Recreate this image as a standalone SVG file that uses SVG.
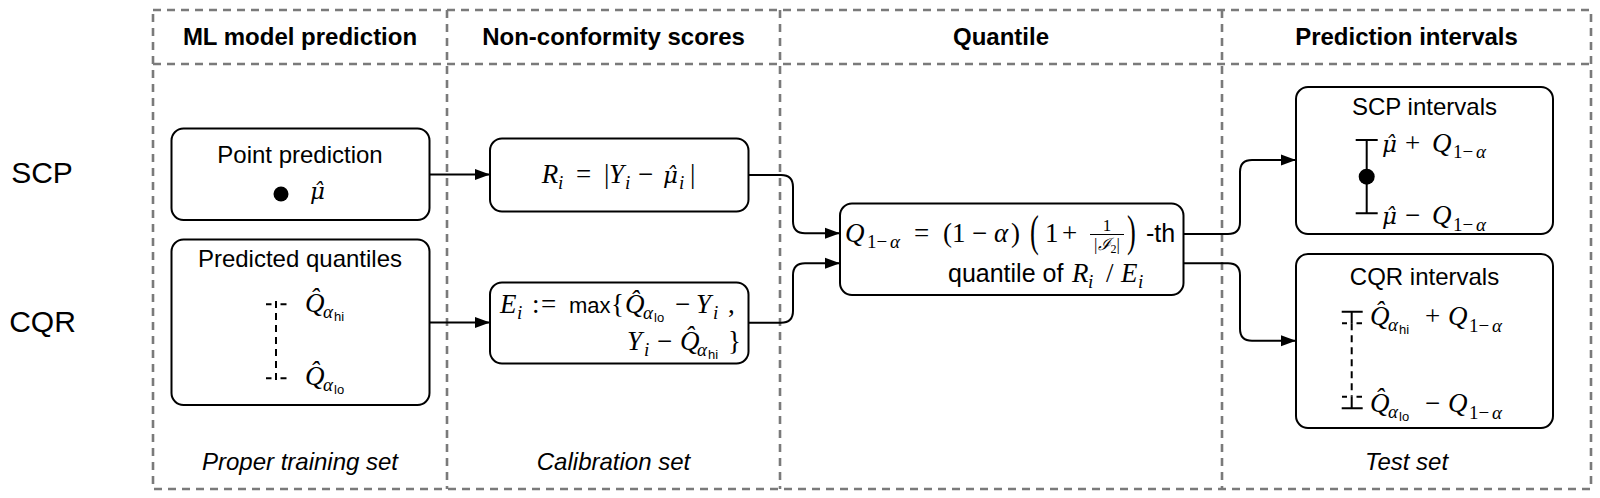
<svg xmlns="http://www.w3.org/2000/svg" width="1600" height="498" viewBox="0 0 1600 498">
<style>
.frame{fill:none;stroke:#7a7a7a;stroke-width:2.6;stroke-dasharray:8 6}
.box{fill:#fff;stroke:#000;stroke-width:2}
.con{fill:none;stroke:#000;stroke-width:2;marker-end:url(#ah)}
.ln{fill:none;stroke:#000;stroke-width:2}
.dl{fill:none;stroke:#000;stroke-width:2;stroke-dasharray:7 5}
.hdr{font-family:"Liberation Sans",Arial,sans-serif;font-weight:bold;font-size:24px;text-anchor:middle;fill:#000}
.row{font-family:"Liberation Sans",Arial,sans-serif;font-size:30px;text-anchor:middle;fill:#000}
.lbl{font-family:"Liberation Sans",Arial,sans-serif;font-size:24px;text-anchor:middle;fill:#000}
.ftr{font-family:"Liberation Sans",Arial,sans-serif;font-style:italic;font-size:24px;text-anchor:middle;fill:#000}
.sf{font-family:"Liberation Sans",Arial,sans-serif;font-size:25px;fill:#000}
.m{font-family:"Liberation Serif","DejaVu Serif",serif;font-style:italic;font-size:27px;fill:#000}
.mu{font-family:"DejaVu Serif",serif;font-style:italic;font-size:23px}
.u{font-style:normal}
.s{font-size:19px}
.ss{font-family:"Liberation Sans",Arial,sans-serif;font-style:normal;font-size:13px}
.big{font-family:"Liberation Serif","DejaVu Serif",serif;font-size:44px;fill:#000}
.fr{font-family:"Liberation Serif","DejaVu Serif",serif;font-size:17px;text-anchor:middle;fill:#000}
</style>
<defs>
<marker id="ah" markerWidth="16" markerHeight="12" refX="15" refY="6" orient="auto" markerUnits="userSpaceOnUse">
<path d="M0,0.5 L15,6 L0,11.5 z" fill="#000"/>
</marker>
</defs>

<g id="frame">
<rect class="frame" x="153" y="10" width="1438" height="479"/>
<line class="frame" x1="153" y1="64" x2="1591" y2="64"/>
<line class="frame" x1="447" y1="10" x2="447" y2="489"/>
<line class="frame" x1="780" y1="10" x2="780" y2="489"/>
<line class="frame" x1="1222" y1="10" x2="1222" y2="489"/>
</g>

<g id="headers">
<text class="hdr" x="300" y="45">ML model prediction</text>
<text class="hdr" x="613.5" y="45">Non-conformity scores</text>
<text class="hdr" x="1001" y="45">Quantile</text>
<text class="hdr" x="1406.5" y="45">Prediction intervals</text>
</g>

<g id="rowlabels">
<text class="row" x="42" y="183">SCP</text>
<text class="row" x="42.5" y="331.5">CQR</text>
</g>

<g id="footers">
<text class="ftr" x="300" y="470">Proper training set</text>
<text class="ftr" x="613.5" y="470">Calibration set</text>
<text class="ftr" x="1406.5" y="470">Test set</text>
</g>

<g id="connectors">
<path class="con" d="M429.5,174.5 H490"/>
<path class="con" d="M429.5,322.5 H490"/>
<path class="con" d="M748.5,175 H781 Q793,175 793,187 V221.3 Q793,233.3 805,233.3 H840"/>
<path class="con" d="M748.5,322.7 H781 Q793,322.7 793,310.7 V275.3 Q793,263.3 805,263.3 H840"/>
<path class="con" d="M1183.5,234 H1228 Q1240,234 1240,222 V172 Q1240,160 1252,160 H1296"/>
<path class="con" d="M1183.5,263.3 H1228 Q1240,263.3 1240,275.3 V328.7 Q1240,340.7 1252,340.7 H1296"/>
</g>

<g id="point-prediction">
<rect class="box" x="171.5" y="128.5" width="258" height="91.5" rx="12"/>
<text class="lbl" x="300" y="163">Point prediction</text>
<circle cx="281" cy="194" r="7.5" fill="#000"/>
<text class="m mu" x="310" y="199">μ̂</text>
</g>

<g id="predicted-quantiles">
<rect class="box" x="171.5" y="239.5" width="258" height="165.5" rx="12"/>
<text class="lbl" x="300" y="267">Predicted quantiles</text>
<path class="ln" d="M266,304.3 H271.5 M280.5,304.3 H286.5 M266,378.3 H271.5 M280.5,378.3 H286.5"/>
<line class="dl" x1="276" y1="301" x2="276" y2="381"/>
<text class="m"><tspan x="305" y="312">Q̂</tspan><tspan class="s" x="323" y="318">α</tspan><tspan class="ss" x="334" y="321">hi</tspan></text>
<text class="m"><tspan x="305" y="385">Q̂</tspan><tspan class="s" x="323" y="391">α</tspan><tspan class="ss" x="334" y="394">lo</tspan></text>
</g>

<g id="residual-score">
<rect class="box" x="490" y="138.5" width="258.5" height="73" rx="12"/>
<text class="m"><tspan x="541.7" y="183.3">R</tspan><tspan class="s" x="558" y="189">i</tspan><tspan class="u" x="576" y="183.3">=</tspan><tspan class="u" x="604" y="183.3">|</tspan><tspan x="609" y="183.3">Y</tspan><tspan class="s" x="625" y="189">i</tspan><tspan class="u" x="638" y="183.3">−</tspan><tspan class="mu" x="663" y="183.3">μ̂</tspan><tspan class="s" x="679" y="189">i</tspan><tspan class="u" x="690" y="183.3">|</tspan></text>
</g>

<g id="cqr-score">
<rect class="box" x="490" y="282.5" width="258.5" height="81" rx="12"/>
<text class="m"><tspan x="500" y="313.3">E</tspan><tspan class="s" x="517" y="319">i</tspan><tspan class="u" x="532" y="313.3">:</tspan><tspan class="u" x="541" y="313.3">=</tspan></text>
<text class="sf" x="569" y="313.3" style="font-size:22px">max</text>
<text class="m"><tspan class="u" x="611" y="313.3">{</tspan><tspan x="625" y="313.3">Q̂</tspan><tspan class="s" x="643" y="319">α</tspan><tspan class="ss" x="654" y="322">lo</tspan><tspan class="u" x="675" y="313.3">−</tspan><tspan x="696" y="313.3">Y</tspan><tspan class="s" x="713" y="319">i</tspan><tspan class="u" x="728" y="313.3">,</tspan></text>
<text class="m"><tspan x="627" y="350">Y</tspan><tspan class="s" x="644" y="356">i</tspan><tspan class="u" x="657" y="350">−</tspan><tspan x="680" y="350">Q̂</tspan><tspan class="s" x="697" y="356">α</tspan><tspan class="ss" x="708" y="359">hi</tspan><tspan class="u" x="728" y="350">}</tspan></text>
</g>

<g id="quantile">
<rect class="box" x="840" y="203.5" width="343.5" height="91.5" rx="12"/>
<text class="m"><tspan x="845" y="241.7">Q</tspan><tspan class="s u" x="867" y="248">1−</tspan><tspan class="s" x="890" y="248">α</tspan><tspan class="u" x="914" y="241.7">=</tspan><tspan class="u" x="943" y="241.7">(1</tspan><tspan class="u" x="972" y="241.7">−</tspan><tspan x="994" y="241.7">α</tspan><tspan class="u" x="1011" y="241.7">)</tspan></text>
<text class="big" transform="translate(1030,246) scale(0.6,1)" x="0" y="0">(</text>
<text class="m"><tspan class="u" x="1045" y="241.7">1</tspan><tspan class="u" x="1062" y="241.7">+</tspan></text>
<text class="fr" x="1107" y="230.5">1</text>
<line x1="1090" y1="234.5" x2="1124" y2="234.5" stroke="#000" stroke-width="1.2"/>
<text class="fr" x="1107" y="250"><tspan>|</tspan><tspan style="font-style:italic">ℐ</tspan><tspan style="font-size:12px" dy="3">2</tspan><tspan dy="-3">|</tspan></text>
<text class="big" transform="translate(1127,246) scale(0.6,1)" x="0" y="0">)</text>
<text class="sf" x="1146" y="241.7">-th</text>
<text class="sf" x="948" y="281.7">quantile of</text>
<text class="m"><tspan x="1072" y="281.7">R</tspan><tspan class="s" x="1088" y="288">i</tspan><tspan class="u" x="1106" y="281.7">/</tspan><tspan x="1121" y="281.7">E</tspan><tspan class="s" x="1138" y="288">i</tspan></text>
</g>

<g id="scp-intervals">
<rect class="box" x="1296" y="87" width="257" height="147" rx="12"/>
<text class="lbl" x="1424.5" y="115">SCP intervals</text>
<path class="ln" d="M1366.7,140 V213.3 M1355.7,140 H1377.7 M1355.7,213.3 H1377.7"/>
<circle cx="1366.7" cy="176.7" r="8" fill="#000"/>
<text class="m"><tspan class="mu" x="1382" y="151.5">μ̂</tspan><tspan class="u" x="1405" y="151.5">+</tspan><tspan x="1432" y="151.5">Q</tspan><tspan class="s u" x="1453" y="158">1−</tspan><tspan class="s" x="1476" y="158">α</tspan></text>
<text class="m"><tspan class="mu" x="1382" y="224">μ̂</tspan><tspan class="u" x="1405" y="224">−</tspan><tspan x="1432" y="224">Q</tspan><tspan class="s u" x="1453" y="231">1−</tspan><tspan class="s" x="1476" y="231">α</tspan></text>
</g>

<g id="cqr-intervals">
<rect class="box" x="1296" y="254" width="257" height="174" rx="12"/>
<text class="lbl" x="1424.5" y="285">CQR intervals</text>
<path class="ln" d="M1341.7,311.7 H1362.7 M1351.7,311.7 V323.3 M1341.7,408.3 H1362.7 M1351.7,408.3 V396.7"/>
<path class="ln" d="M1342,323.3 H1347 M1356.5,323.3 H1362 M1342,396.7 H1347 M1356.5,396.7 H1362"/>
<line class="dl" x1="1351.7" y1="323.3" x2="1351.7" y2="396.7"/>
<text class="m"><tspan x="1370" y="325">Q̂</tspan><tspan class="s" x="1388" y="331">α</tspan><tspan class="ss" x="1399" y="334">hi</tspan><tspan class="u" x="1425" y="325">+</tspan><tspan x="1448" y="325">Q</tspan><tspan class="s u" x="1469" y="332">1−</tspan><tspan class="s" x="1492" y="332">α</tspan></text>
<text class="m"><tspan x="1370" y="412">Q̂</tspan><tspan class="s" x="1388" y="418">α</tspan><tspan class="ss" x="1399" y="421">lo</tspan><tspan class="u" x="1425" y="412">−</tspan><tspan x="1448" y="412">Q</tspan><tspan class="s u" x="1469" y="419">1−</tspan><tspan class="s" x="1492" y="419">α</tspan></text>
</g>
</svg>
